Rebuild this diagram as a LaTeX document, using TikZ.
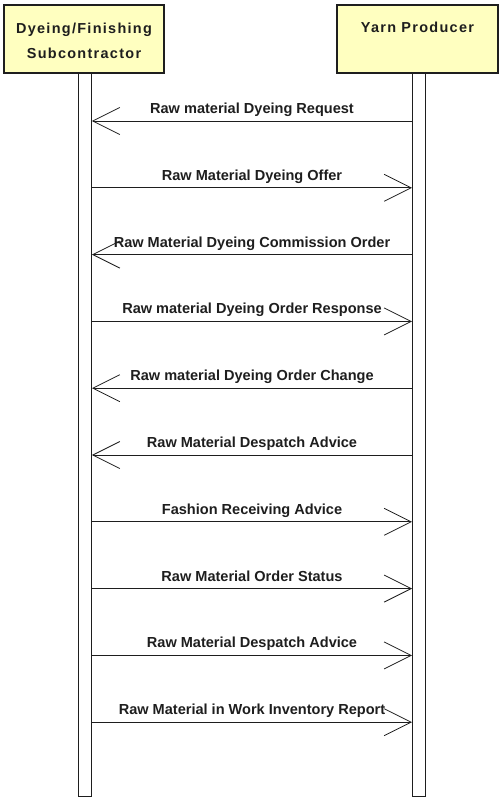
\documentclass[tikz,border=0pt]{standalone}
\usepackage{fontspec}
\setmainfont{Liberation Sans}
\newfontfamily\hdrfont[LetterSpace=9]{Liberation Sans}
\usetikzlibrary{arrows.meta}
\definecolor{actorfill}{RGB}{255,255,192}
\definecolor{ink}{RGB}{30,30,30}
\begin{document}
\begin{tikzpicture}[x=1bp,y=-1bp,
  actor/.style={draw=ink, line width=2bp, fill=actorfill, inner sep=0pt,
    minimum height=68bp, align=center, font=\hdrfont\bfseries\fontsize{14.5}{25}\selectfont},
  bar/.style={draw=ink, line width=0.9bp, fill=white, minimum width=13bp, minimum height=723bp, inner sep=0pt},
  msg/.style={draw=ink, line width=0.8bp, -{Straight Barb[length=27bp,width=27bp,line width=0.8bp]}},
  lbl/.style={font=\bfseries\fontsize{14.6}{17}\selectfont, text=ink, anchor=base, inner sep=0pt},
  hdr/.style={font=\hdrfont\bfseries\fontsize{14.5}{25}\selectfont, align=center, inner sep=0pt, anchor=north, text=ink}
]
\useasboundingbox (0,0) rectangle (501,799);
\node[bar] (LA) at (85,434.5) {};
\node[bar] (LB) at (419,434.5) {};
\node[actor, minimum width=160bp] (A) at (84,39) {};
\node[actor, minimum width=161bp] (B) at (417.5,39) {};
\node[hdr] (At) at ([yshift=-19bp]A.north) {Dyeing/Finishing\\Subcontractor};
\node[hdr] (Bt) at ([yshift=-18bp]B.north) {Yarn Producer};
\foreach \i/\d/\t in {
  0/l/{Raw material Dyeing Request},
  1/r/{Raw Material Dyeing Offer},
  2/l/{Raw Material Dyeing Commission Order},
  3/r/{Raw material Dyeing Order Response},
  4/l/{Raw material Dyeing Order Change},
  5/l/{Raw Material Despatch Advice},
  6/r/{Fashion Receiving Advice},
  7/r/{Raw Material Order Status},
  8/r/{Raw Material Despatch Advice},
  9/r/{Raw Material in Work Inventory Report}} {
  \pgfmathsetmacro\yy{121+66.8*\i}
  \coordinate (L\i) at (LA.east |- 0,\yy);
  \coordinate (R\i) at (LB.west |- 0,\yy);
  \if l\d
    \draw[msg] (R\i) -- (L\i);
  \else
    \draw[msg] (L\i) -- (R\i);
  \fi
  \path (L\i) -- (R\i) node[lbl, midway, yshift=7.5bp] (T\i) {\t};
}
\end{tikzpicture}
\end{document}
